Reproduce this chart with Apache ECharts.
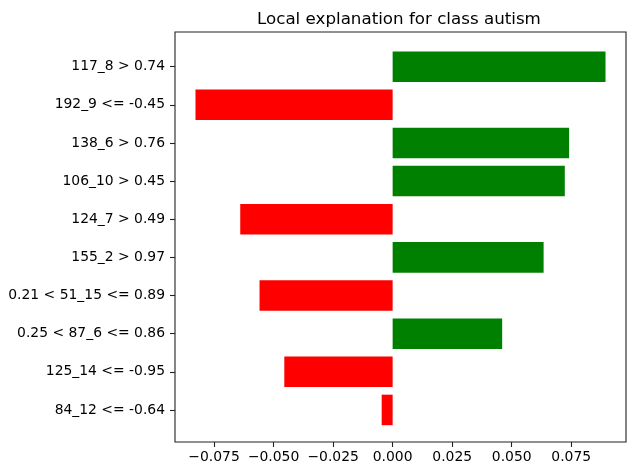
<!DOCTYPE html>
<html>
<head>
<meta charset="utf-8">
<script src="https://cdn.jsdelivr.net/npm/echarts@6/dist/echarts.min.js"></script>
<style>
  html, body { margin: 0; padding: 0; background: #fff; }
  #chart { width: 628px; height: 472px; }
</style>
</head>
<body>
<div id="chart"></div>
<script>
// Feature conditions, listed top to bottom
const features = [
  '117_8 > 0.74',
  '192_9 <= -0.45',
  '138_6 > 0.76',
  '106_10 > 0.45',
  '124_7 > 0.49',
  '155_2 > 0.97',
  '0.21 < 51_15 <= 0.89',
  '0.25 < 87_6 <= 0.86',
  '125_14 <= -0.95',
  '84_12 <= -0.64'
];
// Weight of each feature for the class
const weights = [0.0894, -0.0828, 0.0741, 0.0723, -0.0640, 0.0634, -0.0559, 0.0460, -0.0455, -0.0046];
// Tick positions on the weight axis
const xTicks = [-0.075, -0.05, -0.025, 0, 0.025, 0.05, 0.075];

const FONT = 'DejaVu Sans';
const xMin = -0.0914, xMax = 0.0980;

const chart = echarts.init(document.getElementById('chart'), null, { renderer: 'canvas' });

const fmt = v => {
  const s = Math.abs(v).toFixed(3);
  return v < -1e-9 ? '\u2212' + s : s;
};

chart.setOption({
  animation: false,
  backgroundColor: '#fff',
  title: {
    text: 'Local explanation for class autism',
    left: 257,
    top: 11,
    padding: 0,
    textStyle: { fontFamily: FONT, fontSize: 16.7, fontWeight: 'normal', color: '#000' }
  },
  grid: [
    // frame with the weight axis
    { left: 175, right: 2, top: 32, bottom: 30, show: true, borderColor: '#222', borderWidth: 1.1, backgroundColor: 'transparent' },
    // bars area, rows spaced inside the frame
    { left: 175, right: 2, top: 47.6, bottom: 43 }
  ],
  xAxis: [
    {
      gridIndex: 0, type: 'value', min: xMin, max: xMax,
      splitLine: { show: false },
      axisLine: { show: false },
      axisTick: { show: true, length: 5, lineStyle: { color: '#222', width: 1.1 }, customValues: xTicks },
      axisLabel: { customValues: xTicks, formatter: fmt, margin: 8, fontFamily: FONT, fontSize: 13.9, color: '#000' }
    },
    {
      gridIndex: 1, type: 'value', min: xMin, max: xMax, show: false
    }
  ],
  yAxis: [
    { gridIndex: 0, type: 'value', show: false },
    {
      gridIndex: 1, type: 'category', data: features, inverse: true, position: 'left',
      axisLine: { show: false, onZero: false },
      axisTick: { show: true, alignWithLabel: true, length: 5, lineStyle: { color: '#222', width: 1.1 } },
      axisLabel: { margin: 10, fontFamily: FONT, fontSize: 13.9, color: '#000' }
    }
  ],
  series: [{
    type: 'bar',
    xAxisIndex: 1,
    yAxisIndex: 1,
    barWidth: '80%',
    data: weights.map(w => ({ value: w, itemStyle: { color: w > 0 ? '#008000' : '#ff0000' } }))
  }]
});
</script>
</body>
</html>
